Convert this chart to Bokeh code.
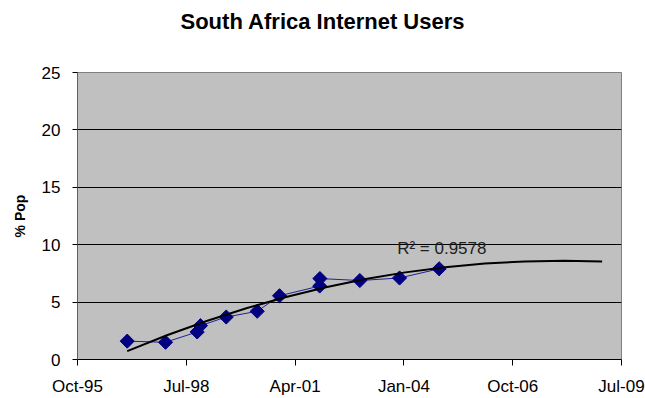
import math
import pandas as pd
from bokeh.plotting import figure
from bokeh.models import Range1d, FixedTicker, DatetimeTickFormatter, Label, ColumnDataSource, Title
from bokeh.embed import file_html
from bokeh.resources import INLINE

title_text = "South Africa Internet Users"
y_label = "% Pop"
r2_text = "R\u00b2 = 0.9578"

obs_dates = ["1997-01-27", "1998-01-14", "1998-11-01", "1998-12-01", "1999-07-26",
             "2000-05-06", "2000-11-27", "2001-12-01", "2001-12-03", "2002-12-05",
             "2003-12-05", "2004-12-03"]
obs_pct = [1.6, 1.5, 2.4, 2.95, 3.7, 4.2, 5.55, 6.4, 7.05, 6.88, 7.1, 7.9]

trend_dates = ["1997-01-27", "1998-01-27", "1999-01-27", "2000-01-27", "2001-01-27",
               "2002-01-27", "2003-01-27", "2004-01-27", "2005-01-27", "2006-01-27",
               "2007-01-27", "2008-01-27", "2009-01-09"]
trend_pct = [0.73, 2.11, 3.35, 4.46, 5.44, 6.29, 7.01, 7.59, 8.04, 8.36, 8.54, 8.6, 8.53]

# Excel date serials of the x-axis ticks (Oct-95 ... Jul-09)
x_tick_serials = [35000, 36000, 37000, 38000, 39000, 40000]
y_ticks = [0, 5, 10, 15, 20, 25]
y_grid = [5, 10, 15, 20]

r2_date = "2003-11-13"
r2_y = 9.65

excel_epoch = pd.Timestamp("1899-12-30")
tick_ts = [excel_epoch + pd.Timedelta(days=s) for s in x_tick_serials]
unix = pd.Timestamp("1970-01-01")
tick_ms = [(t - unix).total_seconds() * 1000.0 for t in tick_ts]

obs = ColumnDataSource(dict(x=pd.to_datetime(obs_dates), y=obs_pct))
trend = ColumnDataSource(dict(x=pd.to_datetime(trend_dates), y=trend_pct))

font = "Liberation Sans"

p = figure(width=645, height=398, x_axis_type="datetime", title=None,
           output_backend="svg", toolbar_location=None,
           x_range=Range1d(tick_ts[0], tick_ts[-1]), y_range=Range1d(0, 25),
           min_border_left=77, min_border_right=24, min_border_top=72,
           min_border_bottom=38)

# spacer between plot area and title (added first -> closest to plot area)
p.add_layout(Title(text=" ", text_font_size="1px", standoff=30), "above")
p.add_layout(Title(text=title_text, align="left", offset=103, standoff=11,
                   text_font=font, text_font_size="22px", text_font_style="bold",
                   text_color="black"), "above")

p.background_fill_color = "#C0C0C0"
p.border_fill_color = "white"
p.outline_line_color = "#808080"
p.outline_line_width = 1

p.xgrid.grid_line_color = None
p.ygrid.ticker = FixedTicker(ticks=y_grid)
p.ygrid.grid_line_color = "black"
p.ygrid.grid_line_width = 1

xa = p.xaxis[0]
xa.ticker = FixedTicker(ticks=tick_ms)
xa.formatter = DatetimeTickFormatter(years="%b-%y", months="%b-%y", days="%b-%y",
                                     hours="%b-%y", minutes="%b-%y")
xa.axis_line_color = "black"
xa.major_tick_line_color = "black"
xa.major_tick_out = 6
xa.major_tick_in = 0
xa.minor_tick_line_color = None
xa.major_label_text_font = font
xa.major_label_text_font_size = "17px"
xa.major_label_text_color = "black"
xa.major_label_standoff = 11

ya = p.yaxis[0]
ya.ticker = FixedTicker(ticks=y_ticks)
ya.axis_line_color = "#606060"
ya.major_tick_line_color = "black"
ya.major_tick_out = 5
ya.major_tick_in = 0
ya.minor_tick_line_color = None
ya.major_label_text_font = font
ya.major_label_text_font_size = "17px"
ya.major_label_text_color = "black"
ya.major_label_standoff = 12
ya.axis_label = y_label
ya.axis_label_text_font = font
ya.axis_label_text_font_size = "14px"
ya.axis_label_text_font_style = "bold"
ya.axis_label_text_color = "black"
ya.axis_label_standoff = 11

p.line("x", "y", source=obs, line_color="#202098", line_width=1)
p.scatter("x", "y", source=obs, marker="square", angle=math.pi / 4, size=10,
          fill_color="#000080", line_color="#000080")
p.line("x", "y", source=trend, line_color="black", line_width=2)

p.add_layout(Label(x=pd.Timestamp(r2_date), y=r2_y, text=r2_text,
                   text_font=font, text_font_size="17px", text_color="#202020",
                   text_align="left", text_baseline="alphabetic"))

open("out.html", "w").write(file_html(p, INLINE))
